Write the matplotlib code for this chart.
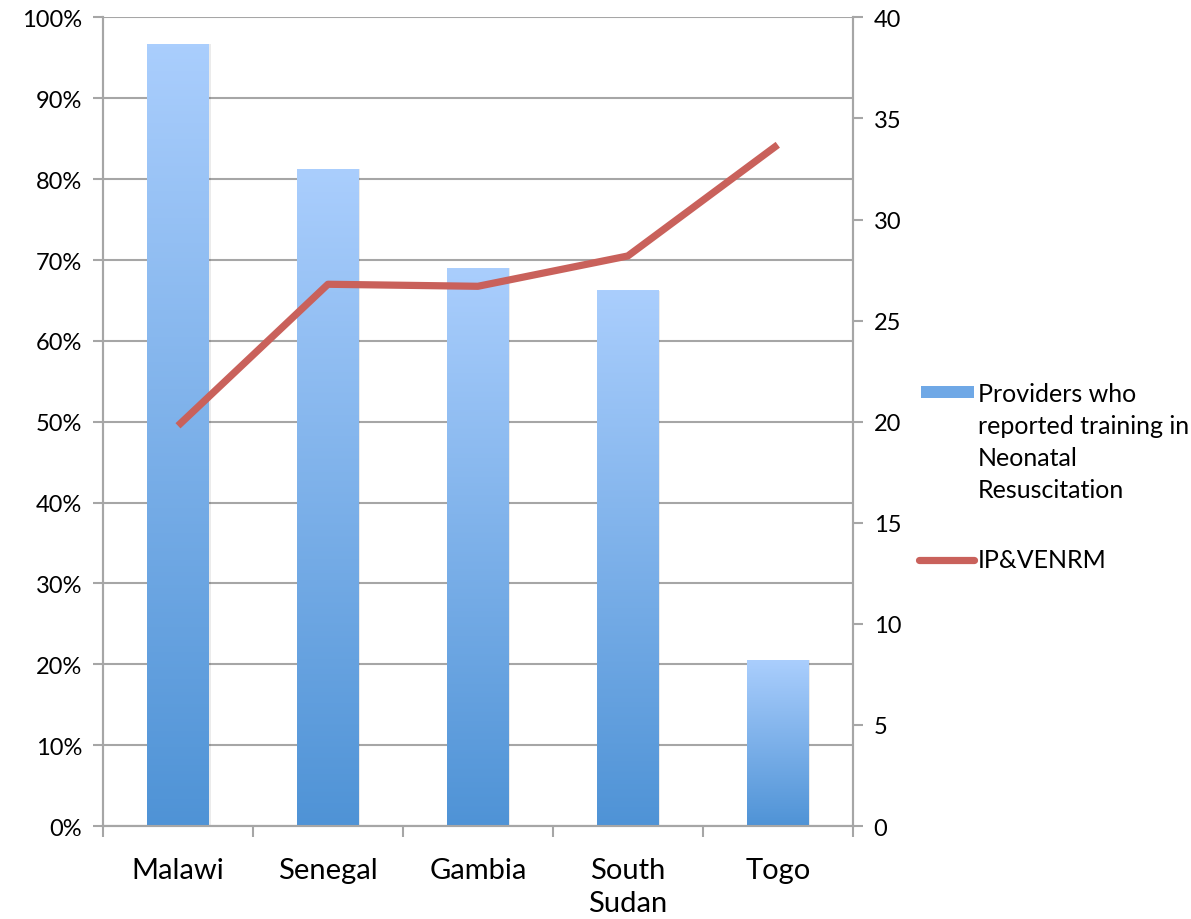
import numpy as np
import matplotlib.pyplot as plt
from matplotlib.colors import LinearSegmentedColormap
from matplotlib.patches import Rectangle
from matplotlib.lines import Line2D

# data
countries = ["Malawi", "Senegal", "Gambia", "South\nSudan", "Togo"]
trained_pct = [96.7, 81.2, 69.0, 66.2, 20.5]
ipvenrm = [19.8, 26.8, 26.7, 28.2, 33.7]

bar_label = "Providers who\nreported training in\nNeonatal\nResuscitation"
line_label = "IP&VENRM"

plt.rcParams['font.family'] = ['Lato', 'DejaVu Sans']
grid_col = "#A6A6A6"
line_col = "#C9615B"
grad = LinearSegmentedColormap.from_list("barfade", ["#4F93D6", "#AACEFD"])

fig = plt.figure(figsize=(11.91, 9.2), dpi=100)
ax = fig.add_axes([0.0865, 0.101, 0.6295, 0.879])
x = np.arange(len(countries))
bw = 0.41

# gradient bars, each fading dark->light over its own height
g = np.linspace(0, 1, 256).reshape(-1, 1)
for xi, h in zip(x, trained_pct):
    # soft shadow on the right edge
    ax.add_patch(Rectangle((xi - bw / 2 + 0.012, 0), bw, h, color="#000000",
                           alpha=0.08, lw=0, zorder=2))
    ax.imshow(g, cmap=grad, origin="lower", aspect="auto",
              extent=[xi - bw / 2, xi + bw / 2, 0, h], zorder=3)
ax.set_xlim(-0.5, len(countries) - 0.5)
ax.set_ylim(0, 100)

ax.set_yticks(np.arange(0, 101, 10))
ax.set_yticklabels([f"{v}%" for v in range(0, 101, 10)])
ax.yaxis.grid(True, color=grid_col, lw=1.5)
ax.set_axisbelow(True)

ax.set_xticks(np.arange(-0.5, len(countries), 1.0))
ax.set_xticklabels([])
ax.set_xticks(x, minor=True)
ax.set_xticklabels(countries, minor=True, linespacing=1.35)
ax.tick_params(axis="x", which="major", length=8, width=1.5, color=grid_col,
               direction="out")
ax.tick_params(axis="x", which="minor", length=0, pad=22, labelsize=21)
ax.tick_params(axis="y", length=7, width=1.5, color=grid_col, labelsize=17, pad=8)

ax.spines["top"].set_visible(False)
for s in ["left", "bottom", "right"]:
    ax.spines[s].set_color(grid_col)
    ax.spines[s].set_linewidth(1.5)

ax2 = ax.twinx()
ax2.plot(x, ipvenrm, color=line_col, lw=5.2, solid_capstyle="butt", zorder=5)
ax2.set_ylim(0, 40)
ax2.set_yticks(np.arange(0, 41, 5))
ax2.tick_params(axis="y", length=7, width=1.5, color=grid_col, labelsize=17, pad=8)
ax2.spines["top"].set_visible(False)
for s in ["left", "bottom", "right"]:
    ax2.spines[s].set_color(grid_col)
    ax2.spines[s].set_linewidth(1.5)

# legend drawn by hand so the swatch sits at the top of the wrapped text
fig.add_artist(Rectangle((921 / 1191, 1 - 399 / 920), 53 / 1191, 12 / 920,
                         transform=fig.transFigure, facecolor="#6FA8E6", lw=0))
fig.text(978 / 1191, 1 - 383 / 920, bar_label, fontsize=18, va="top",
         ha="left", linespacing=1.47)
fig.add_artist(Line2D([919 / 1191, 974 / 1191], [1 - 561 / 920, 1 - 561 / 920],
                      transform=fig.transFigure, color=line_col, lw=5.2,
                      solid_capstyle="round"))
fig.text(978 / 1191, 1 - 561 / 920, line_label, fontsize=18, va="center",
         ha="left")

fig.savefig("out.png", dpi=100)
